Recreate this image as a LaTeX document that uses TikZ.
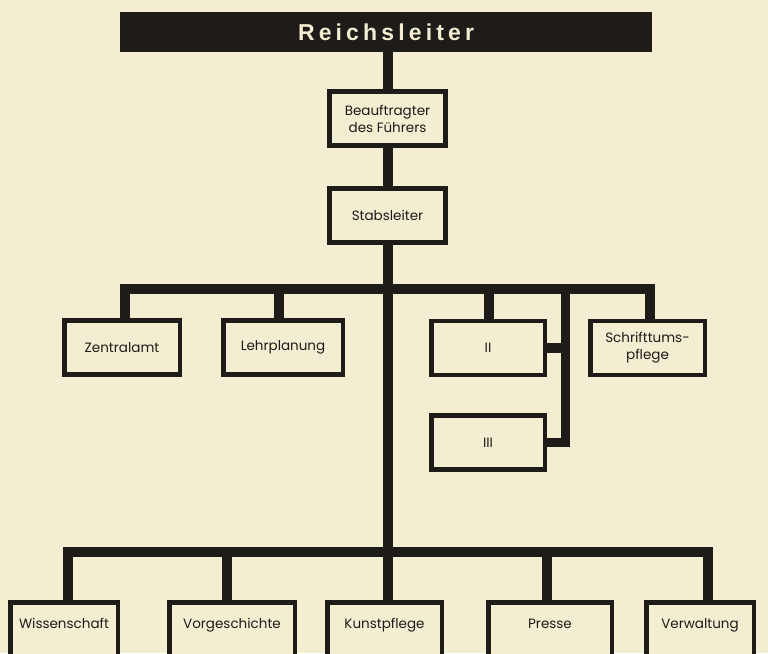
\documentclass[tikz,border=0pt]{standalone}
\usepackage{fontspec}
\setmainfont{Poppins}
\newfontfamily\barfont[LetterSpace=18]{Liberation Sans}
\definecolor{paper}{RGB}{243,237,210}
\definecolor{ink}{RGB}{30,27,24}
\begin{document}
\begin{tikzpicture}[x=1pt,y=-1pt,
  conn/.style={draw=ink,line width=10pt,line join=miter},
  unit/.style={draw=ink,fill=paper,line width=4.5pt,inner sep=0pt,align=center,
    text=ink,font=\fontsize{13.5}{17}\selectfont},
  toprow/.style={unit,minimum width=116pt,minimum height=54pt},
  midrow/.style={unit,minimum height=54pt},
  lowrow/.style={unit,minimum height=55.5pt,text height=10pt,text depth=13pt},
  headbar/.style={fill=ink,text=paper,inner sep=0pt,minimum width=532pt,minimum height=40pt,
    font=\barfont\bfseries\fontsize{23}{23}\selectfont}]
% paper
\fill[paper] (0,0) rectangle (768,653);
\useasboundingbox (0,0) rectangle (768,653);
\clip (0,0) rectangle (768,653);

% head of the office
\node[headbar] (reich) at (386,32) {Reichsleiter};

% staff chain
\node[toprow] (beauf) at (387.5,118.5) {Beauftragter\\des Führers};
\node[toprow] (stab) at (387.5,215.5) {Stabsleiter};

% first row of offices
\node[midrow,minimum width=115.5pt] (zentral) at (122,347.5) {Zentralamt};
\node[midrow,minimum width=119.5pt] (lehr) at (283,347.5) {Lehrplanung};
\node[midrow,minimum width=113.5pt] (amt2) at (488,348) {II};
\node[midrow,minimum width=113.5pt] (amt3) at (488,442.5) {III};
\node[midrow,minimum width=114.5pt] (schrift) at (647.5,348) {Schrifttums-\\pflege};

% lower row of offices
\node[lowrow,minimum width=107.5pt] (wiss) at (64,630) {Wissenschaft};
\node[lowrow,minimum width=125.5pt] (vorg) at (232,630) {Vorgeschichte};
\node[lowrow,minimum width=114.5pt] (kunst) at (384.5,630) {Kunstpflege};
\node[lowrow,minimum width=123.5pt] (presse) at (550,630) {Presse};
\node[lowrow,minimum width=107.5pt] (verw) at (700,630) {Verwaltung};

% branch points
\coordinate (b1) at (387,289);
\coordinate (b2) at (387,552);
\coordinate (v) at (565,289);

% trunk
\draw[conn] (reich.south -| beauf.north) -- (beauf.north);
\draw[conn] (beauf.south) -- (stab.north);
\draw[conn] (stab.south) -- (stab.south |- kunst.north);

% upper branch
\draw[conn] ([xshift=3pt]zentral.north) |- (b1) -| ([xshift=2.5pt]schrift.north);
\draw[conn] ([xshift=-4pt]lehr.north) -- ([xshift=-4pt]lehr.north |- b1);
\draw[conn] ([xshift=1pt]amt2.north) -- ([xshift=1pt]amt2.north |- b1);
\draw[conn,line width=9pt] (v) |- (amt3.east);
\draw[conn] (amt2.east) -- (amt2.east -| v);

% lower branch
\draw[conn] ([xshift=4pt]wiss.north) |- (b2) -| ([xshift=8pt]verw.north);
\draw[conn] ([xshift=-5pt]vorg.north) -- ([xshift=-5pt]vorg.north |- b2);
\draw[conn] ([xshift=-3pt]presse.north) -- ([xshift=-3pt]presse.north |- b2);
\end{tikzpicture}
\end{document}
